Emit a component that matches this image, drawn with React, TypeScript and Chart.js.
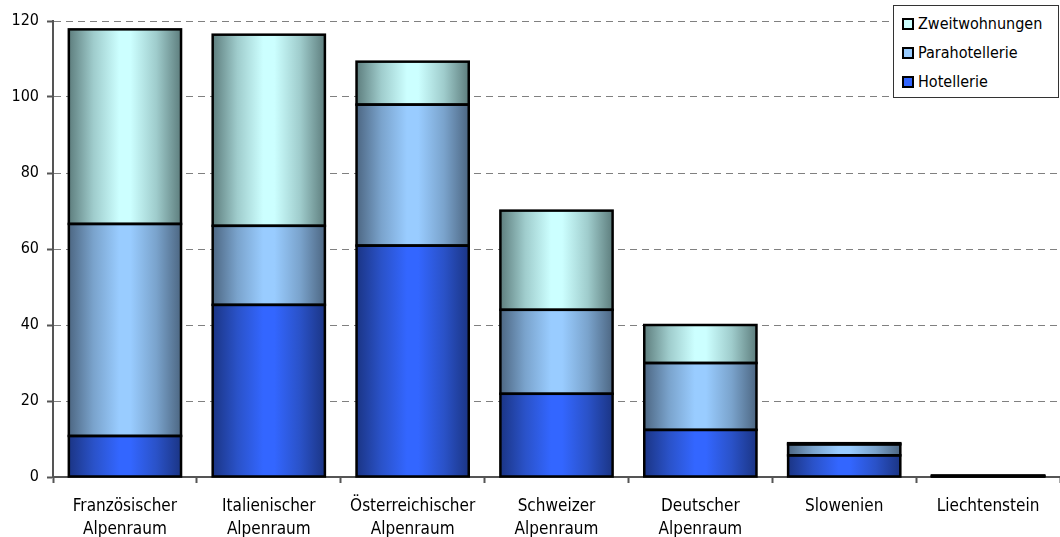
import React, { useEffect, useRef } from "react";
import { Chart, registerables } from "chart.js";

Chart.register(...registerables);

const categories: (string | string[])[] = [
  ["Französischer", "Alpenraum"],
  ["Italienischer", "Alpenraum"],
  ["Österreichischer", "Alpenraum"],
  ["Schweizer", "Alpenraum"],
  ["Deutscher", "Alpenraum"],
  "Slowenien",
  "Liechtenstein",
];
const hotellerie = [10.8, 45.3, 60.9, 21.9, 12.4, 5.7, 0.2];
const parahotellerie = [55.8, 20.8, 37.1, 22.1, 17.6, 2.9, 0.1];
const zweitwohnungen = [51.2, 50.3, 11.3, 26.1, 10.0, 0.3, 0.1];
const yTicks = [0, 20, 40, 60, 80, 100, 120];

const FONT = "'DejaVu Sans Condensed', 'DejaVu Sans', sans-serif";
const BAR_PCT = 0.78;

function gradientFill(dark: string, mid: string, light: string) {
  return (ctx: any) => {
    const chart = ctx.chart;
    const xs = chart.scales && chart.scales.x;
    if (!xs || ctx.dataIndex === undefined || !chart.chartArea) return light;
    const n = chart.data.labels.length;
    const cw = (xs.right - xs.left) / n;
    const cx = xs.getPixelForValue(ctx.dataIndex);
    const w = cw * BAR_PCT;
    const g = chart.ctx.createLinearGradient(cx - w / 2, 0, cx + w / 2, 0);
    g.addColorStop(0, dark);
    g.addColorStop(0.22, mid);
    g.addColorStop(0.45, light);
    g.addColorStop(0.55, light);
    g.addColorStop(0.78, mid);
    g.addColorStop(1, dark);
    return g;
  };
}

const series = [
  { label: "Hotellerie", data: hotellerie, dark: "#1b3585", mid: "#2a52c8", light: "#3366ff" },
  { label: "Parahotellerie", data: parahotellerie, dark: "#4d6783", mid: "#7aa3cc", light: "#99ccff" },
  { label: "Zweitwohnungen", data: zweitwohnungen, dark: "#5e7e7e", mid: "#9fcccc", light: "#ccffff" },
];

const outlinePlugin = {
  id: "barOutline",
  afterDatasetsDraw(chart: any) {
    const ctx = chart.ctx;
    ctx.save();
    ctx.strokeStyle = "#000000";
    ctx.lineWidth = 2.5;
    chart.data.datasets.forEach((_: any, di: number) => {
      const meta = chart.getDatasetMeta(di);
      meta.data.forEach((el: any) => {
        const p = el.getProps(["x", "y", "base", "width"], true);
        const top = Math.min(p.y, p.base);
        const h = Math.abs(p.base - p.y);
        ctx.strokeRect(p.x - p.width / 2, top, p.width, h);
      });
    });
    ctx.restore();
  },
};

export default function App() {
  const ref = useRef<HTMLCanvasElement>(null);

  useEffect(() => {
    document.body.style.margin = "0";
    const canvas = ref.current;
    if (!canvas) return;
    const chart = new Chart(canvas, {
      type: "bar",
      data: {
        labels: categories as any,
        datasets: series.map((s) => ({
          label: s.label,
          data: s.data,
          backgroundColor: gradientFill(s.dark, s.mid, s.light) as any,
          borderWidth: 0,
          barPercentage: BAR_PCT,
          categoryPercentage: 1,
        })),
      },
      options: {
        animation: false,
        responsive: false,
        maintainAspectRatio: false,
        layout: { padding: { top: 21, right: 0, left: 0, bottom: 0 } },
        plugins: { legend: { display: false }, tooltip: { enabled: false } },
        scales: {
          x: {
            stacked: true,
            offset: true,
            grid: {
              offset: true,
              drawOnChartArea: false,
              drawTicks: true,
              tickLength: 6,
              tickColor: "#555555",
              tickWidth: 2,
            },
            border: { display: true, color: "#555555", width: 2 },
            ticks: {
              color: "#000000",
              font: { family: FONT, size: 17, lineHeight: 1.353 },
              padding: 12,
              maxRotation: 0,
              autoSkip: false,
            },
            afterFit: (scale: any) => {
              scale.height = 60;
            },
          },
          y: {
            stacked: true,
            min: 0,
            max: 120,
            afterBuildTicks: (scale: any) => {
              scale.ticks = yTicks.map((v) => ({ value: v }));
            },
            grid: {
              color: "#808080",
              lineWidth: 1,
              drawTicks: true,
              tickLength: 6,
              tickColor: "#555555",
              tickWidth: 2,
            },
            border: { display: true, color: "#555555", width: 2, dash: [7, 5] },
            ticks: {
              color: "#000000",
              font: { family: FONT, size: 16 },
              padding: 8,
            },
            afterFit: (scale: any) => {
              scale.width = 53;
            },
          },
        },
      },
      plugins: [outlinePlugin],
    });
    return () => chart.destroy();
  }, []);

  const legendItems = [
    { label: "Zweitwohnungen", color: "#ccffff" },
    { label: "Parahotellerie", color: "#99ccff" },
    { label: "Hotellerie", color: "#3366ff" },
  ];

  return (
    <div style={{ position: "relative", width: 1060, height: 537 }}>
      <canvas ref={ref} width={1060} height={537} style={{ display: "block" }} />
      <div
        style={{
          position: "absolute",
          left: 893,
          top: 5,
          width: 166,
          height: 93,
          boxSizing: "border-box",
          border: "1px solid #333333",
          background: "#ffffff",
          fontFamily: FONT,
          fontSize: 16,
          color: "#000000",
          paddingTop: 3,
        }}
      >
        {legendItems.map((it) => (
          <div
            key={it.label}
            style={{ display: "flex", alignItems: "center", height: 29, paddingLeft: 8 }}
          >
            <span
              style={{
                display: "inline-block",
                width: 8,
                height: 8,
                border: "2px solid #000000",
                background: it.color,
                marginRight: 4,
              }}
            />
            <span>{it.label}</span>
          </div>
        ))}
      </div>
    </div>
  );
}
